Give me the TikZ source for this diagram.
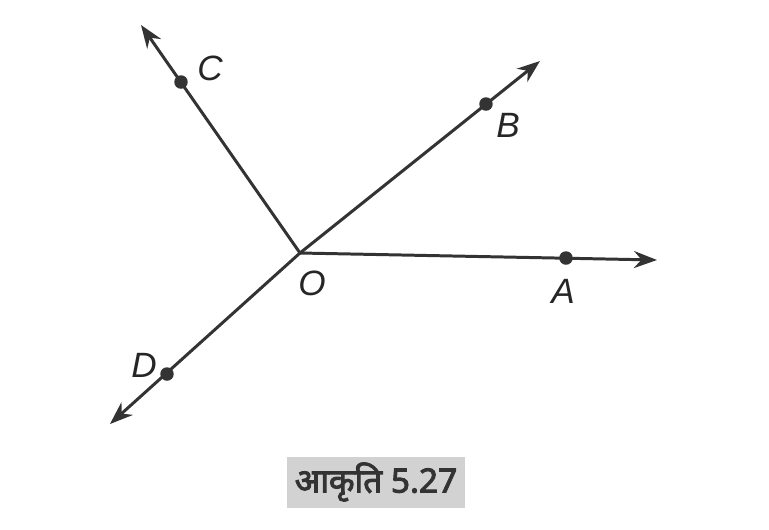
\documentclass[tikz,border=0pt]{standalone}
\usepackage{fontspec}
\setsansfont{Liberation Sans}
\newfontfamily\hindifont[Script=Devanagari, AutoFakeBold=3]{Noto Sans}
\usetikzlibrary{arrows.meta,positioning}
\tikzset{
  ray/.style={draw=black!80, line width=1.7pt, -{Stealth[length=4.6mm,width=3.4mm]}},
  dotpt/.style={circle, fill=black!80, inner sep=0pt, minimum size=2.7mm},
  ptlabel/.style={font=\sffamily\itshape\fontsize{20}{20}\selectfont, text=black!85},
  capbox/.style={fill=gray!35, inner sep=0pt, minimum width=3.56cm, minimum height=1.02cm,
                 font=\hindifont\bfseries\fontsize{19}{19}\selectfont, text=black!80},
}
\begin{document}
\begin{tikzpicture}[x=0.02cm, y=-0.02cm]
  \useasboundingbox[fill=white] (0,0) rectangle (769,529);
  % the point O and the four rays
  \coordinate (O) at (300,253);
  \node[dotpt] (A) at (566,258) {};
  \node[dotpt] (B) at (486,104) {};
  \node[dotpt] (C) at (181,82) {};
  \node[dotpt] (D) at (167,374) {};
  \coordinate (tipA) at (657,260);
  \coordinate (tipB) at (540,61);
  \coordinate (tipC) at (141,25);
  \coordinate (tipD) at (110,424);
  \draw[ray] (O) -- (tipA);
  \draw[ray] (O) -- (tipB);
  \draw[ray] (O) -- (tipC);
  \draw[ray] (O) -- (tipD);
  % labels
  \node[ptlabel] (lO) at (312,283) {O};
  \node[ptlabel] (lA) at (563,291) {A};
  \node[ptlabel] (lB) at (508,125) {B};
  \node[ptlabel] (lC) at (210,68) {C};
  \node[ptlabel] (lD) at (144,365) {D};
  % caption
  \node[capbox] (cap) at (376,482) {आकृति 5.27};
\end{tikzpicture}
\end{document}
